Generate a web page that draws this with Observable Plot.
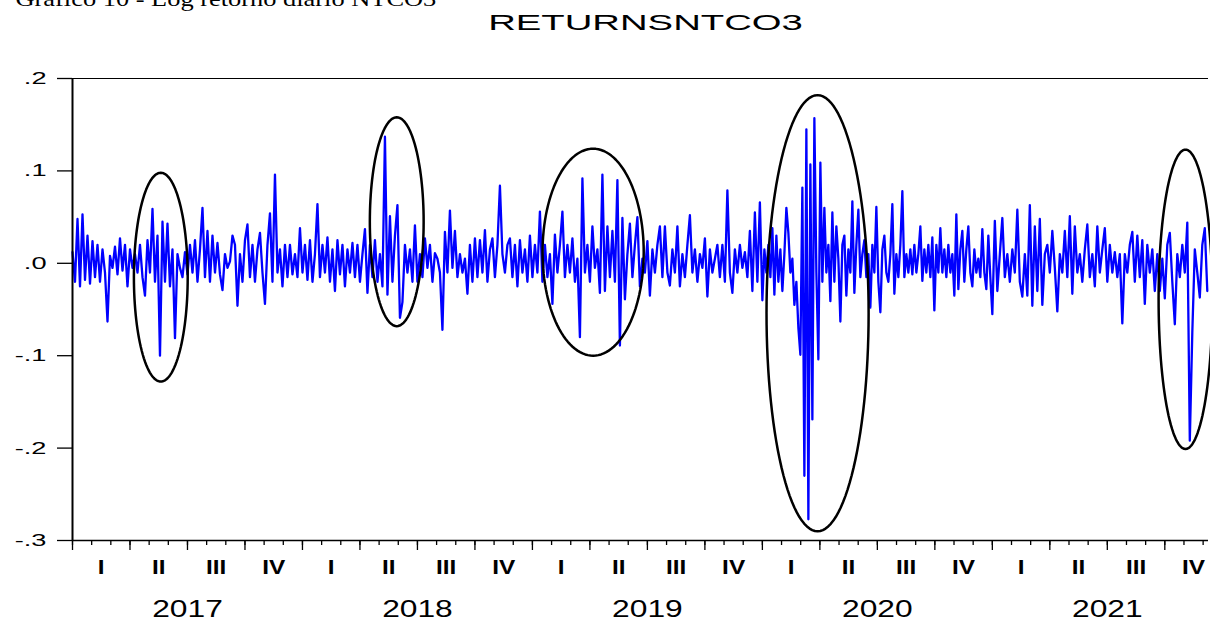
<!DOCTYPE html>
<html><head><meta charset="utf-8">
<script src="https://cdn.jsdelivr.net/npm/d3@7"></script>
<script src="https://cdn.jsdelivr.net/npm/@observablehq/plot@0.6"></script>
<style>
body{margin:0;background:#fff;overflow:hidden}
#chart{position:relative;width:1210px;height:620px}
</style>
</head><body><div id="chart"></div>
<script>
const r2017 = [.012,-.02,.048,-.025,.053,-.018,.03,-.022,.024,-.015,
.02,-.02,.015,-.01,-.063,.008,-.005,.018,-.012,.027,
-.008,.02,-.025,.015,-.005,.01,-.01,.02,-.015,-.035,
.025,-.01,.059,-.02,.03,-.10,.045,-.02,.043,-.025,
.015,-.081,.01,-.005,-.015,.012,-.012,.02,-.01,.025,
-.02,.015,.06,-.015,.035,-.02,.03,-.01,.022,-.012,
-.029,.01,-.005,.002,.03,.02,-.046,.01,-.02,.025,
.042,-.015,.02,-.02,.015,.033,-.01,-.044,.02,.054,
-.02,.096,-.01,.015,-.025,.02,-.015,.02,-.012,.01,
-.015,.038];
const r2018 = [-.01,.02,-.018,.025,-.02,.01,.064,-.015,.02,-.01,
.028,-.02,.015,-.03,.025,-.012,.02,-.025,.015,-.01,
.022,-.015,.02,-.02,.01,.037,-.032,.02,-.015,.025,
-.02,.01,-.025,.137,-.034,.051,-.02,.03,.063,-.059,
-.042,.02,-.01,.015,-.02,.041,-.02,.01,-.015,.027,
-.005,.02,-.02,.011,.005,-.01,-.072,.034,-.01,.057,
-.005,.035,-.015,.01,-.01,.005,-.033,.02,-.02,.027,
-.015,.025,-.01,.036,-.02,.015,.027,-.015,.02,.084,
.01,-.01,.02,.027,-.015,.02,-.025,.025,-.01,.015,
-.02,.03];
const r2019 = [-.015,.02,-.01,.056,-.02,.02,-.015,.01,-.044,.031,
-.01,.02,.056,-.015,.02,-.01,.027,-.02,.005,-.08,
.092,-.01,.02,-.02,.04,-.005,.015,-.032,.096,-.03,
.04,-.015,.035,-.02,.09,-.089,.049,-.039,.01,.043,
-.015,.02,.05,-.025,.005,-.01,.024,-.035,.015,-.01,
.02,.04,-.015,.04,-.01,-.024,.015,-.01,.04,-.025,
.01,-.015,.02,.052,-.01,.015,-.02,.01,-.005,.027,
-.036,.015,-.01,.005,.02,-.015,.02,-.02,.079,-.01,
-.032,.015,-.01,.02,-.005,.012,-.015,.035,-.03,.055,
-.02,.066];
const r2020 = [-.04,.015,-.01,.02,-.015,.038,-.034,.03,-.02,.015,
-.03,.01,.06,.033,-.01,.005,-.045,-.02,-.07,-.099,
.082,-.23,.145,-.277,.107,-.169,.157,-.01,-.104,.109,
-.02,.06,-.01,.02,-.041,.055,-.02,.04,.005,-.063,
.02,.03,-.035,.015,-.01,.067,-.032,.02,.058,-.015,
.01,.025,-.015,.01,-.048,.02,-.01,.061,-.02,-.053,
.015,.03,-.01,-.02,.01,.064,-.033,.01,-.015,.02,
.078,-.015,.01,-.01,.015,-.012,.02,-.01,.01,.04,
-.019,.015,-.01,.02,-.015,.028,-.051,.02,-.01,.038,
-.01,.015,-.015,.02,-.01,.01,-.035,.053,-.028,.015,
.035,-.02,.015,.04,-.01,-.025,.015,-.01,.005,-.015,
.037,-.01,-.028,.03,-.015];
const r2021 = [-.055,.046,-.03,.01,.049,-.015,.01,-.02,.015,-.01,
.058,-.02,-.036,.01,-.035,.063,-.046,.04,-.03,.048,
-.045,.01,.02,-.01,.035,-.005,-.052,.01,-.01,.035,
-.015,.051,-.033,.04,-.01,.01,-.02,.015,.042,-.015,
.01,-.025,.04,-.01,.015,.038,-.02,.02,-.01,.012,
-.015,.01,-.065,.01,-.01,.02,.034,-.02,.03,-.015,
.025,-.044,.02,-.01,.015,-.03,.01,-.03,.005,-.038,
.02,.033,-.02,-.066,.01,-.015,.02,-.01,.044,-.192,
-.075,.015,-.01,-.037,.02,.038,-.03];

const years = [2017, 2018, 2019, 2020, 2021];
const obsPerYear = [92, 92, 92, 115, 92];   // sampling density of each array
const xEnd = 2021.94;                        // last observation (early Dec 2021)
const yTicks = [0.2, 0.1, 0, -0.1, -0.2, -0.3];
const yTickLabels = [".2", ".1", ".0", "-.1", "-.2", "-.3"];
const quarterLabels = ["I", "II", "III", "IV"];
const yearLabels = ["2017", "2018", "2019", "2020", "2021"];
const title = "RETURNSNTCO3";
const caption = "Gráfico 10 - Log retorno diário NTCO3";

// Volatility-cluster ellipses (centre / radii in data units)
const ellCx = [2017.384, 2018.410, 2019.264, 2020.240, 2021.840];
const ellCy = [-0.015, 0.045, 0.012, -0.054, -0.039];
const ellRx = [0.117, 0.117, 0.220, 0.222, 0.117];
const ellRy = [0.113, 0.113, 0.112, 0.236, 0.162];

const series = [r2017, r2018, r2019, r2020, r2021];
const data = series.flatMap((arr, k) => arr.map((v, i) => ({t: years[k] + i / obsPerYear[k], v})));
const months = d3.range(0, 60).map(m => 2017 + m / 12).filter(t => t <= xEnd);
const quarterStarts = d3.range(0, 60, 3).map(m => 2017 + m / 12);
const quarterPts = years.flatMap(y => quarterLabels.map((q, j) => ({t: y + (j + 0.5) / 4, label: q})));
const yearPts = years.map((y, k) => ({t: y + 0.5, label: yearLabels[k]}));
const ellPts = ellCx.flatMap((cx, k) => d3.range(0, 361, 3).map(a => ({
  t: cx + ellRx[k] * Math.cos(a * Math.PI / 180),
  v: ellCy[k] + ellRy[k] * Math.sin(a * Math.PI / 180),
  k
})));

const chart = Plot.plot({
  width: 1210, height: 620,
  marginLeft: 72, marginRight: 2, marginTop: 78, marginBottom: 80,
  style: {fontFamily: "'Liberation Sans', Arial, sans-serif", fontSize: "17px", background: "#fff", color: "#000", overflow: "visible"},
  x: {domain: [2017, xEnd], label: null},
  y: {domain: [-0.3, 0.2], label: null},
  marks: [
    Plot.line(data, {x: "t", y: "v", stroke: "#0000ff", strokeWidth: 2.3}),
    Plot.line(ellPts, {x: "t", y: "v", z: "k", stroke: "#000", strokeWidth: 2.5}),
    Plot.ruleY([0.2], {stroke: "#000", strokeWidth: 1}),
    Plot.ruleY([-0.3], {stroke: "#000", strokeWidth: 1.5}),
    Plot.ruleX([2017], {stroke: "#000", strokeWidth: 2}),
    Plot.axisY({ticks: yTicks, tickSize: 15, tickPadding: 11, strokeWidth: 1.3,
      tickFormat: d => yTickLabels[yTicks.indexOf(d)], label: null}),
    Plot.axisX({ticks: months, tickSize: 5, tickFormat: () => "", label: null, strokeWidth: 1.3}),
    Plot.axisX({ticks: quarterStarts, tickSize: 10, tickFormat: () => "", label: null, strokeWidth: 1.3}),
    Plot.text(quarterPts, {x: "t", text: "label", frameAnchor: "bottom", lineAnchor: "middle", dy: 26.8, fontSize: 19.5, fontWeight: "bold"}),
    Plot.text(yearPts, {x: "t", text: "label", frameAnchor: "bottom", lineAnchor: "middle", dy: 68.9, fontSize: 23}),
    Plot.text([title], {text: d => d, frameAnchor: "top", lineAnchor: "middle", dx: 5, dy: -54.9, fontSize: 21.5}),
    Plot.text([caption], {text: d => d, frameAnchor: "top-left", dx: -57, dy: -73, textAnchor: "start",
      lineAnchor: "bottom", fontSize: 22, fontFamily: "'Liberation Serif', 'Times New Roman', serif"})
  ]
});
document.getElementById("chart").append(chart);

// EViews-style horizontally stretched lettering
function stretchFor(s) {
  if (s === title) return 1.78;
  if (s === caption) return 1.2;
  if (/^\d{4}$/.test(s)) return 1.38;
  if (/^[IV]+$/.test(s)) return 1.25;
  return 1.6;
}
chart.querySelectorAll("text").forEach(t => {
  const s = t.textContent;
  const L = t.getComputedTextLength();
  if (!s || !L) return;
  t.setAttribute("textLength", L * stretchFor(s));
  t.setAttribute("lengthAdjust", "spacingAndGlyphs");
});
</script>
</body></html>
